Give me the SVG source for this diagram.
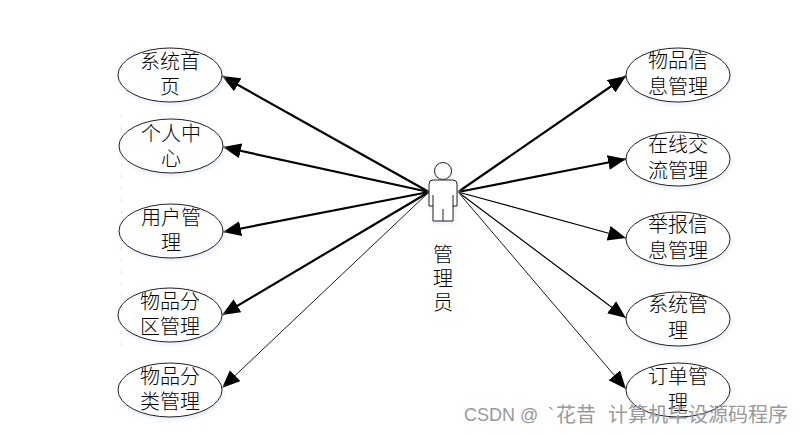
<svg xmlns="http://www.w3.org/2000/svg" width="803" height="434" viewBox="0 0 803 434">
<defs>
<marker id="a" markerUnits="userSpaceOnUse" markerWidth="20" markerHeight="17" refX="18" refY="7.5" orient="auto"><path d="M0 0L18 7.5L0 15z" fill="#000"/></marker>
</defs>
<style>
.u{fill:#fff;stroke:#222;stroke-width:1;filter:drop-shadow(1px 2px 2px #e2ebf9)}
.t{font-family:"Noto Sans CJK SC","Liberation Serif",serif;font-weight:300;font-size:20px;fill:#000;text-anchor:middle}
.c{stroke:#000;fill:none;marker-end:url(#a)}
.b{stroke-width:2.2}
.n{stroke-width:.9}
.m{stroke-width:1.2}
.w{font-family:"Liberation Sans","Noto Sans CJK SC",sans-serif;font-size:18px;fill:#999}
.wc{font-family:"Noto Sans CJK SC",sans-serif;font-size:20px;fill:#999}
</style>
<rect width="803" height="434" fill="#fff"/>
<line x1="121.500" y1="115" x2="121.500" y2="355" stroke="#e2e2e2" stroke-dasharray="3 9"/>
<g id="connectors">
<line class="c b" x1="429" y1="192" x2="222" y2="76"/>
<line class="c b" x1="429" y1="192" x2="223" y2="147"/>
<line class="c b" x1="429" y1="192" x2="223" y2="232"/>
<line class="c b" x1="429" y1="192" x2="222" y2="315"/>
<line class="c n" x1="429" y1="192" x2="222" y2="388"/>
<line class="c b" x1="458" y1="192" x2="626" y2="76"/>
<line class="c b" x1="458" y1="192" x2="626" y2="159"/>
<line class="c m" x1="458" y1="192" x2="626" y2="238"/>
<line class="c m" x1="458" y1="192" x2="626" y2="318"/>
<line class="c n" x1="458" y1="192" x2="626" y2="389"/>
</g>
<g id="actor">
<circle class="u" cx="443" cy="171" r="8.5"/>
<path class="u" d="M433 180H453Q457 180 457 184V206H453V221H433V206H429V184Q429 180 433 180Z"/>
<path fill="none" stroke="#222" d="M433 195V206M453 195V206M443 209V221"/>
<text class="t" x="443" y="262">管</text>
<text class="t" x="443" y="286">理</text>
<text class="t" x="443" y="310">员</text>
</g>
<g id="n1"><ellipse class="u" cx="170" cy="75" rx="52" ry="27"/><text class="t" x="170" y="69">系统首</text><text class="t" x="170" y="94">页</text></g>
<g id="n2"><ellipse class="u" cx="171" cy="146" rx="52" ry="27"/><text class="t" x="171" y="141">个人中</text><text class="t" x="171" y="166">心</text></g>
<g id="n3"><ellipse class="u" cx="171" cy="231" rx="52" ry="27"/><text class="t" x="171" y="225">用户管</text><text class="t" x="171" y="250">理</text></g>
<g id="n4"><ellipse class="u" cx="170" cy="315" rx="52" ry="27"/><text class="t" x="170" y="309">物品分</text><text class="t" x="170" y="334">区管理</text></g>
<g id="n5"><ellipse class="u" cx="170" cy="390" rx="52" ry="27"/><text class="t" x="170" y="384">物品分</text><text class="t" x="170" y="409">类管理</text></g>
<g id="n6"><ellipse class="u" cx="678" cy="75" rx="52" ry="27"/><text class="t" x="678" y="68">物品信</text><text class="t" x="678" y="94">息管理</text></g>
<g id="n7"><ellipse class="u" cx="678" cy="159" rx="52" ry="27"/><text class="t" x="678" y="152">在线交</text><text class="t" x="678" y="178">流管理</text></g>
<g id="n8"><ellipse class="u" cx="678" cy="239" rx="52" ry="27"/><text class="t" x="678" y="232">举报信</text><text class="t" x="678" y="258">息管理</text></g>
<g id="n9"><ellipse class="u" cx="678" cy="319" rx="52" ry="27"/><text class="t" x="678" y="312">系统管</text><text class="t" x="678" y="338">理</text></g>
<g id="n10"><ellipse class="u" cx="678" cy="390" rx="52" ry="27"/><text class="t" x="678" y="384">订单管</text><text class="t" x="678" y="410">理</text></g>
<g id="watermark"><text class="w" x="464" y="421">CSDN @</text><text class="w" x="548" y="421">`</text><text class="wc" x="556" y="422">花昔</text><text class="wc" x="608" y="422">计算机毕设源码程序</text></g>
</svg>
